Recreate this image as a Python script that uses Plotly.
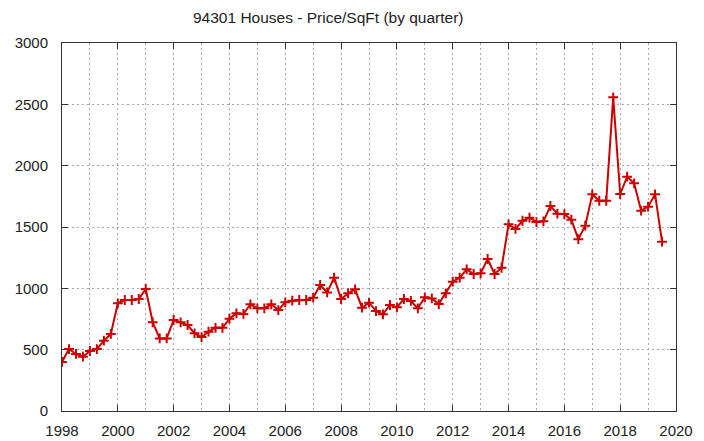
import plotly.graph_objects as go

start_year = 1998.0
quarter_step = 0.25
price_per_sqft = [
    400, 505, 465, 443, 489, 505, 573, 628,
    878, 905, 905, 913, 995, 723, 592, 592,
    742, 723, 701, 633, 603, 647, 678, 678,
    752, 796, 791, 870, 837, 837, 870, 823,
    886, 899, 905, 905, 924, 1027, 967, 1087,
    913, 959, 992, 842, 883, 815, 788, 864,
    845, 913, 897, 837, 927, 918, 872, 959,
    1054, 1087, 1155, 1117, 1122, 1239, 1117, 1168,
    1522, 1484, 1551, 1576, 1540, 1546, 1671, 1609,
    1605, 1560, 1401, 1511, 1766, 1714, 1714, 2557,
    1769, 1910, 1856, 1633, 1666, 1766, 1380,
]
quarters = [start_year + i * quarter_step for i in range(len(price_per_sqft))]

x_tick_vals = list(range(1998, 2021, 2))
y_tick_vals = [0, 500, 1000, 1500, 2000, 2500, 3000]

red = "#cc0000"
grid = "#a8a8a8"
font_family = "Liberation Sans, Arial, sans-serif"

# page body has a default 8px offset; compensate in margins
off = 8
W, H = 704, 441
pl, pr, pt, pb = 62 - off, 676 - off, 43 - off, 411.5 - off

fig = go.Figure()
fig.add_trace(go.Scatter(
    x=quarters, y=price_per_sqft, mode="lines+markers",
    line=dict(color=red, width=2),
    marker=dict(symbol="cross-thin", size=7, line=dict(color=red, width=2), color=red),
    showlegend=False,
))

fig.update_layout(
    width=W, height=H,
    margin=dict(l=pl, r=W - pr, t=pt, b=H - pb, autoexpand=False),
    paper_bgcolor="white", plot_bgcolor="white",
    font=dict(family=font_family, size=15, color="#222222"),
)
fig.add_annotation(
    text="94301 Houses - Price/SqFt (by quarter)",
    xref="paper", yref="paper",
    x=(328 - off - pl) / (pr - pl), y=1 + (pt - (17.5 - off)) / (pb - pt),
    showarrow=False, xanchor="center", yanchor="middle",
    font=dict(family=font_family, size=15.5, color="#222222"),
)
fig.update_xaxes(
    range=[1998, 2020], tickvals=x_tick_vals, ticktext=[str(v) for v in x_tick_vals],
    showgrid=True, gridcolor=grid, griddash="2px,3px", gridwidth=1,
    minor=dict(dtick=1, tick0=1998, showgrid=True, gridcolor=grid, griddash="2px,3px", ticks=""),
    ticks="inside", ticklen=6, tickcolor="#333333",
    showline=True, linecolor="#333333", linewidth=1, mirror="ticks",
    zeroline=False, ticklabelstandoff=6, automargin=False,
)
fig.update_yaxes(
    range=[0, 3000], tickvals=y_tick_vals,
    showgrid=True, gridcolor=grid, griddash="2px,3px", gridwidth=1,
    ticks="inside", ticklen=6, tickcolor="#333333",
    showline=True, linecolor="#333333", linewidth=1, mirror="ticks",
    zeroline=False, ticklabelstandoff=10, automargin=False,
)

fig.write_html("out.html")
